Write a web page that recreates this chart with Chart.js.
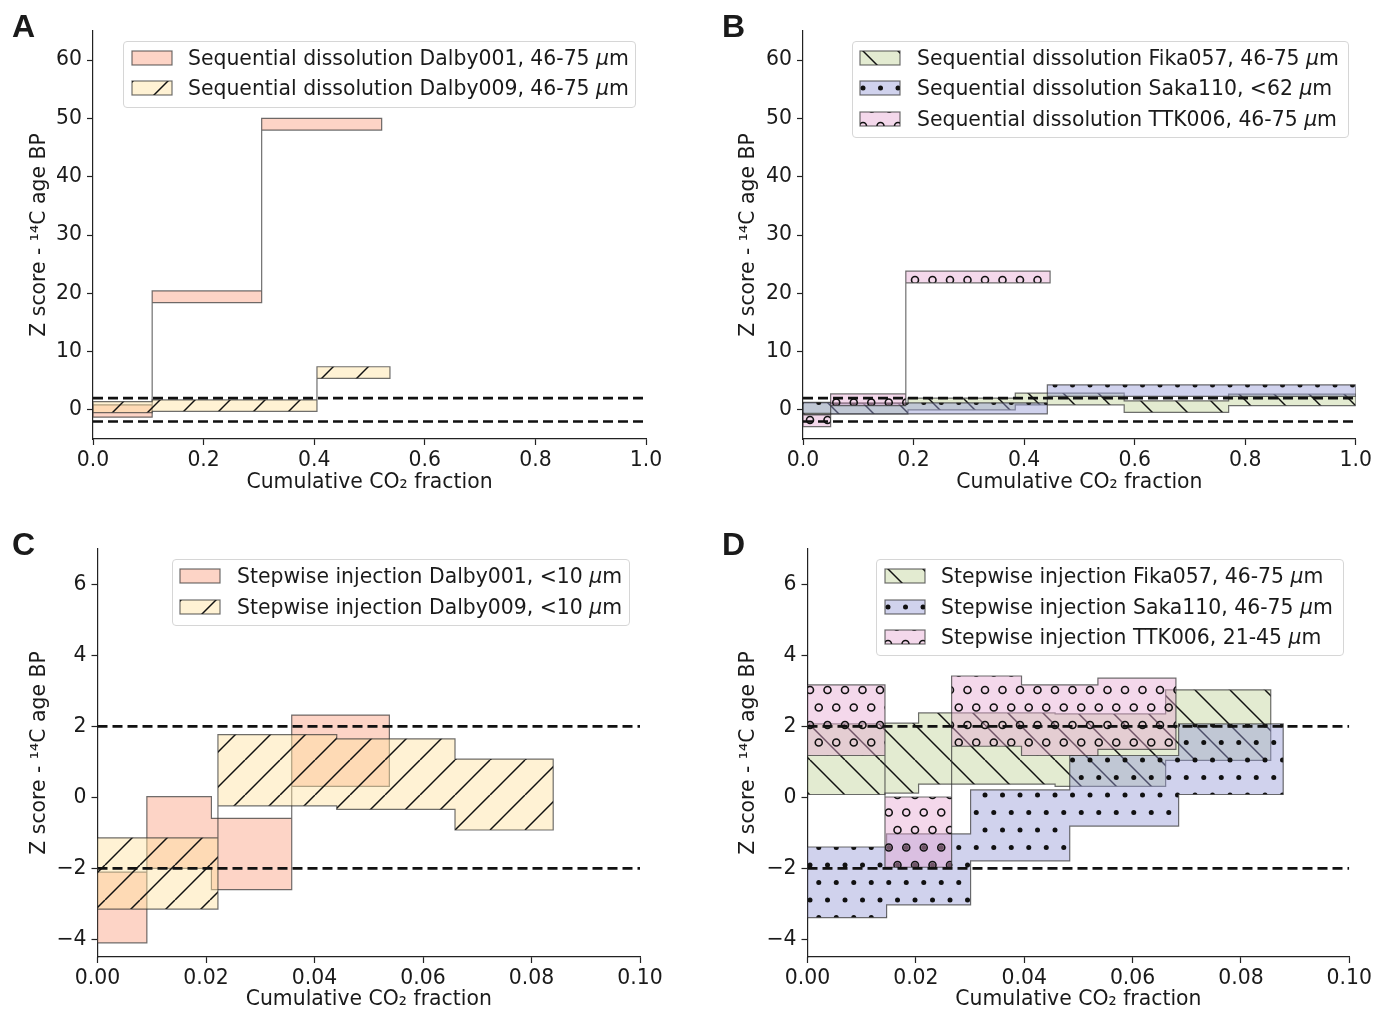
<!DOCTYPE html>
<html>
<head>
<meta charset="utf-8">
<script src="https://cdn.jsdelivr.net/npm/chart.js@4.4.1/dist/chart.umd.min.js"></script>
<style>
  body { margin: 0; width: 1375px; height: 1013px; background: #fff; position: relative; overflow: hidden; font-family: 'DejaVu Sans'; color: #1a1a1a; }
  .letter { position: absolute; font: bold 32px 'Liberation Sans'; line-height: 32px; }
  .legend { position: absolute; border: 1px solid #d6d6d6; border-radius: 4px; background: rgba(255,255,255,0.85); box-sizing: border-box; }
  .swatch { position: absolute; }
  .label { position: absolute; font-size: 20.4px; line-height: 24px; white-space: nowrap; }
</style>
</head>
<body>
<script>
// tick values
const xTicksWide = [0, 0.2, 0.4, 0.6, 0.8, 1.0];
const xTicksNarrow = [0, 0.02, 0.04, 0.06, 0.08, 0.10];
const yTicksWide = [0, 10, 20, 30, 40, 50, 60];
const yTicksNarrow = [-4, -2, 0, 2, 4, 6];
const zLimits = [2, -2];

// A - sequential dissolution
const aDalby001Edges = [0, 0.107, 0.305, 0.522];
const aDalby001Low = [-1.25, 18.4, 48.0];
const aDalby001High = [0.86, 20.4, 50.0];
const aDalby009Edges = [0, 0.107, 0.405, 0.537];
const aDalby009Low = [-0.46, -0.25, 5.4];
const aDalby009High = [1.42, 1.7, 7.4];

// B - sequential dissolution
const bFika057Edges = [0, 0.05, 0.19, 0.384, 0.581, 0.770, 1.0];
const bFika057Low = [-0.8, -0.7, 0.0, 0.86, -0.42, 0.74];
const bFika057High = [1.2, 1.15, 2.0, 2.86, 1.55, 2.69];
const bSaka110Edges = [0, 0.05, 0.19, 0.442, 1.0];
const bSaka110Low = [-0.6, -0.7, -0.7, 2.3];
const bSaka110High = [1.3, 1.15, 1.2, 4.3];
const bTTK006Edges = [0, 0.05, 0.186, 0.447];
const bTTK006Low = [-2.86, 0.74, 21.8];
const bTTK006High = [-0.86, 2.74, 23.8];

// C - stepwise injection
const cDalby001Edges = [0, 0.0091, 0.0210, 0.0358, 0.0538];
const cDalby001Low = [-4.10, -2.0, -2.60, 0.31];
const cDalby001High = [-2.11, 0.02, -0.59, 2.32];
const cDalby009Edges = [0, 0.0222, 0.0441, 0.0659, 0.0840];
const cDalby009Low = [-3.15, -0.24, -0.34, -0.92];
const cDalby009High = [-1.14, 1.77, 1.65, 1.08];

// D - stepwise injection
const dFika057Edges = [0, 0.0143, 0.0205, 0.0457, 0.0661, 0.0855];
const dFika057Low = [0.08, 0.12, 0.37, 0.31, 1.04];
const dFika057High = [2.07, 2.09, 2.38, 2.35, 3.03];
const dSaka110Edges = [0, 0.0146, 0.0301, 0.0484, 0.0685, 0.0878];
const dSaka110Low = [-3.39, -3.03, -1.79, -0.81, 0.08];
const dSaka110High = [-1.40, -1.03, 0.21, 1.18, 2.07];
const dTTK006Edges = [0, 0.0143, 0.0266, 0.0395, 0.0536, 0.0680];
const dTTK006Low = [1.18, -1.97, 1.44, 1.18, 1.35];
const dTTK006High = [3.17, 0.01, 3.42, 3.17, 3.36];

const salmon = 'rgba(252,170,142,0.5)';
const yellow = 'rgba(255,226,160,0.45)';
const green = 'rgba(194,210,152,0.45)';
const blue = 'rgba(150,156,214,0.45)';
const pink = 'rgba(230,168,210,0.45)';
const edgeColor = 'rgba(50,50,50,0.7)';

const fontSize = 20.4;
Chart.defaults.font.family = "'DejaVu Sans'";
Chart.defaults.font.size = fontSize;
Chart.defaults.color = '#1a1a1a';

function hatch(kind, color) {
  const s = 35;
  const c = document.createElement('canvas');
  c.width = s; c.height = s;
  const g = c.getContext('2d');
  g.fillStyle = color;
  g.fillRect(0, 0, s, s);
  g.strokeStyle = '#111';
  g.fillStyle = '#111';
  g.lineWidth = 1.5;
  if (kind === '/' || kind === '\\') {
    for (const o of [-s, 0, s]) {
      g.beginPath();
      if (kind === '/') { g.moveTo(o, s); g.lineTo(o + s, 0); }
      else { g.moveTo(o, 0); g.lineTo(o + s, s); }
      g.stroke();
    }
  } else if (kind === '.' || kind === 'o') {
    const h = s / 2, q = s / 4;
    const spots = [];
    for (const y of [0, s]) for (const x of [0, h, s]) spots.push([x, y]);
    for (const x of [-q, q, h + q, s + q]) spots.push([x, h]);
    spots.forEach(function (p) {
      g.beginPath();
      if (kind === '.') { g.arc(p[0], p[1], 2.5, 0, 2 * Math.PI); g.fill(); }
      else { g.lineWidth = 1.6; g.arc(p[0], p[1], 3.5, 0, 2 * Math.PI); g.stroke(); }
    });
  }
  return g.createPattern(c, 'repeat');
}

// closed outline of a stepped band: upper steps forward, lower steps back
function stepShape(edges, low, high) {
  const pts = [];
  for (let i = 0; i < high.length; i++) {
    pts.push({x: edges[i], y: high[i]}, {x: edges[i + 1], y: high[i]});
  }
  for (let i = low.length - 1; i >= 0; i--) {
    pts.push({x: edges[i + 1], y: low[i]}, {x: edges[i], y: low[i]});
  }
  pts.push({x: edges[0], y: high[0]});
  return pts;
}

const mu = '<i>\u03bc</i>m';

const panels = [
  {
    letter: 'A', letterPos: [12, 10],
    box: [0, 0, 690, 515], area: [93, 31, 646, 439],
    xMin: 0, xMax: 1, xTicks: xTicksWide, xDigits: 1,
    yMin: -5, yMax: 65, yTicks: yTicksWide,
    yTitleX: 40, xTitleY: 483,
    legend: {rect: [123, 40.5, 636, 108], rows: [57.8, 88.3], swatchX: 131, textX: 188},
    series: [
      {label: 'Sequential dissolution Dalby001, 46-75 ' + mu, edges: aDalby001Edges, low: aDalby001Low, high: aDalby001High, color: salmon, hatch: ''},
      {label: 'Sequential dissolution Dalby009, 46-75 ' + mu, edges: aDalby009Edges, low: aDalby009Low, high: aDalby009High, color: yellow, hatch: '/'}
    ]
  },
  {
    letter: 'B', letterPos: [722, 10],
    box: [705, 0, 670, 515], area: [803, 31, 1356, 439],
    xMin: 0, xMax: 1, xTicks: xTicksWide, xDigits: 1,
    yMin: -5, yMax: 65, yTicks: yTicksWide,
    yTitleX: 749, xTitleY: 483,
    legend: {rect: [851.5, 40.5, 1349, 138], rows: [57.5, 88.2, 118.5], swatchX: 859, textX: 917},
    series: [
      {label: 'Sequential dissolution Fika057, 46-75 ' + mu, edges: bFika057Edges, low: bFika057Low, high: bFika057High, color: green, hatch: '\\'},
      {label: 'Sequential dissolution Saka110, &lt;62 ' + mu, edges: bSaka110Edges, low: bSaka110Low, high: bSaka110High, color: blue, hatch: '.'},
      {label: 'Sequential dissolution TTK006, 46-75 ' + mu, edges: bTTK006Edges, low: bTTK006Low, high: bTTK006High, color: pink, hatch: 'o'}
    ]
  },
  {
    letter: 'C', letterPos: [12, 528],
    box: [0, 515, 690, 498], area: [97.5, 549, 640, 957],
    xMin: 0, xMax: 0.1, xTicks: xTicksNarrow, xDigits: 2,
    yMin: -4.5, yMax: 7, yTicks: yTicksNarrow,
    yTitleX: 40, xTitleY: 1000,
    legend: {rect: [171.5, 558.5, 630, 626], rows: [576, 606.5], swatchX: 179, textX: 237},
    series: [
      {label: 'Stepwise injection Dalby001, &lt;10 ' + mu, edges: cDalby001Edges, low: cDalby001Low, high: cDalby001High, color: salmon, hatch: ''},
      {label: 'Stepwise injection Dalby009, &lt;10 ' + mu, edges: cDalby009Edges, low: cDalby009Low, high: cDalby009High, color: yellow, hatch: '/'}
    ]
  },
  {
    letter: 'D', letterPos: [722, 528],
    box: [705, 515, 670, 498], area: [807.5, 549, 1351, 957],
    xMin: 0, xMax: 0.1, xTicks: xTicksNarrow, xDigits: 2,
    yMin: -4.5, yMax: 7, yTicks: yTicksNarrow,
    yTitleX: 749, xTitleY: 1000,
    legend: {rect: [875.5, 558.5, 1343.5, 656], rows: [575.8, 606.5, 637.3], swatchX: 883.5, textX: 941},
    series: [
      {label: 'Stepwise injection Fika057, 46-75 ' + mu, edges: dFika057Edges, low: dFika057Low, high: dFika057High, color: green, hatch: '\\'},
      {label: 'Stepwise injection Saka110, 46-75 ' + mu, edges: dSaka110Edges, low: dSaka110Low, high: dSaka110High, color: blue, hatch: '.'},
      {label: 'Stepwise injection TTK006, 21-45 ' + mu, edges: dTTK006Edges, low: dTTK006Low, high: dTTK006High, color: pink, hatch: 'o'}
    ]
  }
];

// where the swatch pattern starts, so one row of marks shows like in the figure
const swatchShift = {'': [0, 0], '/': [3, 0], '\\': [3, 0], '.': [4, 8], 'o': [4, 15]};

function makeLegend(p) {
  const r = p.legend.rect;
  const box = document.createElement('div');
  box.className = 'legend';
  box.style.left = r[0] + 'px';
  box.style.top = r[1] + 'px';
  box.style.width = (r[2] - r[0]) + 'px';
  box.style.height = (r[3] - r[1]) + 'px';
  document.body.appendChild(box);
  p.series.forEach(function (s, i) {
    const cy = p.legend.rows[i];
    const sw = document.createElement('canvas');
    sw.className = 'swatch';
    sw.width = 42; sw.height = 16;
    sw.style.left = p.legend.swatchX + 'px';
    sw.style.top = (cy - 8) + 'px';
    const g = sw.getContext('2d');
    const pat = hatch(s.hatch, s.color);
    const sh = swatchShift[s.hatch];
    pat.setTransform(new DOMMatrix().translate(sh[0], sh[1]));
    g.fillStyle = pat;
    g.fillRect(1, 1, 40, 14);
    g.strokeStyle = edgeColor;
    g.lineWidth = 1.2;
    g.strokeRect(1, 1, 40, 14);
    document.body.appendChild(sw);
    const t = document.createElement('div');
    t.className = 'label';
    t.innerHTML = s.label;
    t.style.left = p.legend.textX + 'px';
    t.style.top = (cy - 12) + 'px';
    document.body.appendChild(t);
  });
}

function makeChart(p) {
  const canvas = document.createElement('canvas');
  canvas.width = p.box[2];
  canvas.height = p.box[3];
  canvas.style.position = 'absolute';
  canvas.style.left = p.box[0] + 'px';
  canvas.style.top = p.box[1] + 'px';
  document.body.appendChild(canvas);

  const datasets = [];
  zLimits.forEach(function (z) {
    datasets.push({
      data: [{x: p.xMin, y: z}, {x: p.xMax, y: z}],
      borderColor: '#111', borderWidth: 2.7, borderDash: [10, 5],
      fill: false, pointRadius: 0
    });
  });
  p.series.slice().reverse().forEach(function (s) {
    datasets.push({
      data: stepShape(s.edges, s.low, s.high),
      fill: 'shape',
      backgroundColor: hatch(s.hatch, s.color),
      borderColor: edgeColor, borderWidth: 1.2,
      pointRadius: 0, tension: 0
    });
  });

  const lineH = fontSize * 1.2;
  new Chart(canvas, {
    type: 'line',
    data: {datasets: datasets},
    options: {
      responsive: false,
      animation: false,
      events: [],
      layout: {
        padding: {
          top: p.area[1] - p.box[1],
          right: p.box[0] + p.box[2] - p.area[2],
          left: 0, bottom: 0
        }
      },
      plugins: { legend: { display: false }, tooltip: { enabled: false } },
      scales: {
        x: {
          type: 'linear', min: p.xMin, max: p.xMax,
          afterBuildTicks: function (a) { a.ticks = p.xTicks.map(function (v) { return {value: v}; }); },
          afterFit: function (a) { a.height = p.box[1] + p.box[3] - p.area[3]; },
          ticks: { callback: function (v) { return v.toFixed(p.xDigits); }, padding: 3, maxRotation: 0, autoSkip: false },
          grid: { drawOnChartArea: false, tickLength: 6, tickWidth: 1.2, tickColor: '#222' },
          border: { color: '#222', width: 1.2 },
          title: { display: true, text: 'Cumulative CO\u2082 fraction',
                   padding: { top: 0, bottom: p.box[1] + p.box[3] - p.xTitleY - lineH / 2 } }
        },
        y: {
          min: p.yMin, max: p.yMax,
          afterBuildTicks: function (a) { a.ticks = p.yTicks.map(function (v) { return {value: v}; }); },
          afterFit: function (a) { a.width = p.area[0] - p.box[0]; },
          ticks: { callback: function (v) { return v < 0 ? '\u2212' + Math.abs(v) : String(v); }, padding: 5 },
          grid: { drawOnChartArea: false, tickLength: 6, tickWidth: 1.2, tickColor: '#222' },
          border: { color: '#222', width: 1.2 },
          title: { display: true, text: 'Z score - \u00b9\u2074C age BP',
                   padding: { top: p.yTitleX - p.box[0] - lineH / 2, bottom: 0 } }
        }
      }
    }
  });

  const L = document.createElement('div');
  L.className = 'letter';
  L.textContent = p.letter;
  L.style.left = p.letterPos[0] + 'px';
  L.style.top = p.letterPos[1] + 'px';
  document.body.appendChild(L);
}

panels.forEach(function (p) {
  makeChart(p);
  makeLegend(p);
});
</script>
</body>
</html>
